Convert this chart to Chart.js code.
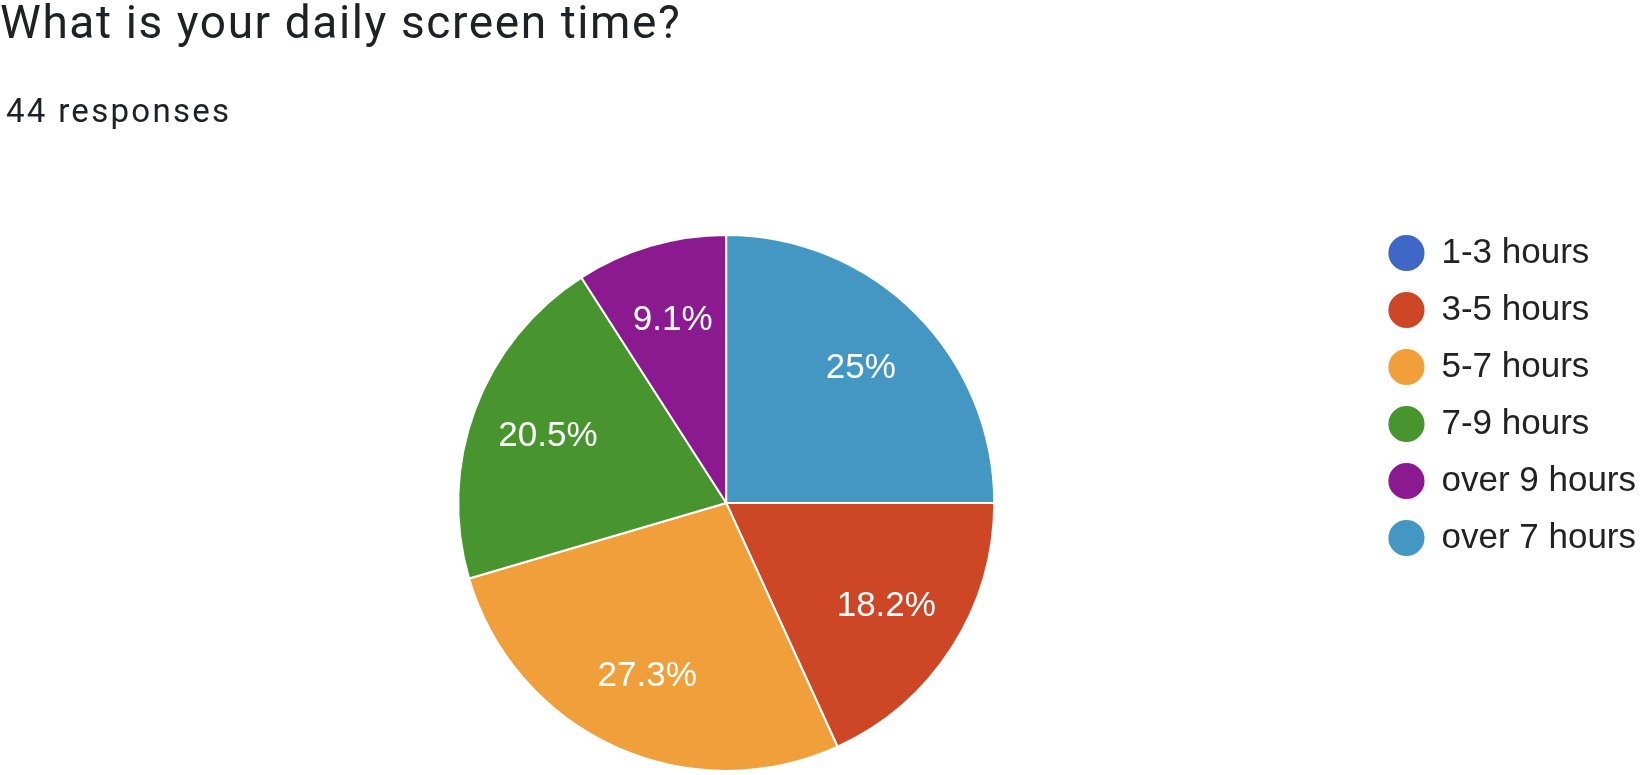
<!DOCTYPE html>
<html>
<head>
<meta charset="utf-8">
<title>What is your daily screen time?</title>
<script src="https://cdn.jsdelivr.net/npm/chart.js@4/dist/chart.umd.min.js"></script>
<style>
  html, body { margin: 0; padding: 0; background: #fff; overflow: hidden; }
  #title {
    position: absolute; left: 0; top: -1px;
    font-family: Roboto, sans-serif; font-size: 46px; line-height: 46px;
    letter-spacing: 1.6px; color: #202124; white-space: nowrap; z-index: 2;
  }
  #subtitle {
    position: absolute; left: 6px; top: 94px;
    font-family: Roboto, sans-serif; font-size: 33px; line-height: 33px;
    letter-spacing: 2.3px; color: #202124; white-space: nowrap; z-index: 2;
  }
  #wrap { position: absolute; left: 0; top: 0; width: 1646px; height: 810px; }
</style>
</head>
<body>
<div id="title">What is your daily screen time?</div>
<div id="subtitle">44 responses</div>
<div id="wrap"><canvas id="screenTime"></canvas></div>
<script>
// answers from the form (44 responses)
const labels = ['1-3 hours', '3-5 hours', '5-7 hours', '7-9 hours', 'over 9 hours', 'over 7 hours'];
const responses = [0, 8, 12, 9, 4, 11];
const colors = ['#3f67c7', '#cd4727', '#f19f3a', '#48952f', '#8b1a91', '#4597c3'];

// percentage text inside each slice
const sliceLabels = {
  id: 'sliceLabels',
  afterDatasetsDraw(chart) {
    const ctx = chart.ctx;
    const meta = chart.getDatasetMeta(0);
    const data = chart.data.datasets[0].data;
    const total = data.reduce((a, b) => a + b, 0);
    ctx.save();
    ctx.font = '35px "Liberation Sans", Arial, sans-serif';
    ctx.fillStyle = '#ffffff';
    ctx.textAlign = 'center';
    ctx.textBaseline = 'middle';
    meta.data.forEach((arc, i) => {
      if (!data[i]) return;
      const mid = (arc.startAngle + arc.endAngle) / 2;
      const r = arc.outerRadius * 0.71;
      const pct = Math.round(data[i] / total * 1000) / 10;
      ctx.fillText(pct + '%', arc.x + Math.cos(mid) * r, arc.y + Math.sin(mid) * r);
    });
    ctx.restore();
  }
};

ctx = document.getElementById('screenTime');
new Chart(ctx, {
  type: 'pie',
  data: {
    labels: labels,
    datasets: [{
      data: responses,
      backgroundColor: colors,
      borderColor: '#ffffff',
      borderWidth: 2,
      radius: 268
    }]
  },
  options: {
    responsive: true,
    maintainAspectRatio: false,
    animation: false,
    rotation: 90,
    layout: {
      padding: { left: 85.5, right: 0, top: 213.5, bottom: 17.5 }
    },
    plugins: {
      tooltip: { enabled: false },
      legend: {
        position: 'right',
        align: 'start',
        labels: {
          usePointStyle: true,
          pointStyle: 'circle',
          boxWidth: 35,
          boxHeight: 27,
          padding: 22,
          color: '#222222',
          font: { family: '"Liberation Sans", Arial, sans-serif', size: 35 }
        }
      }
    }
  },
  plugins: [sliceLabels]
});
</script>
</body>
</html>
